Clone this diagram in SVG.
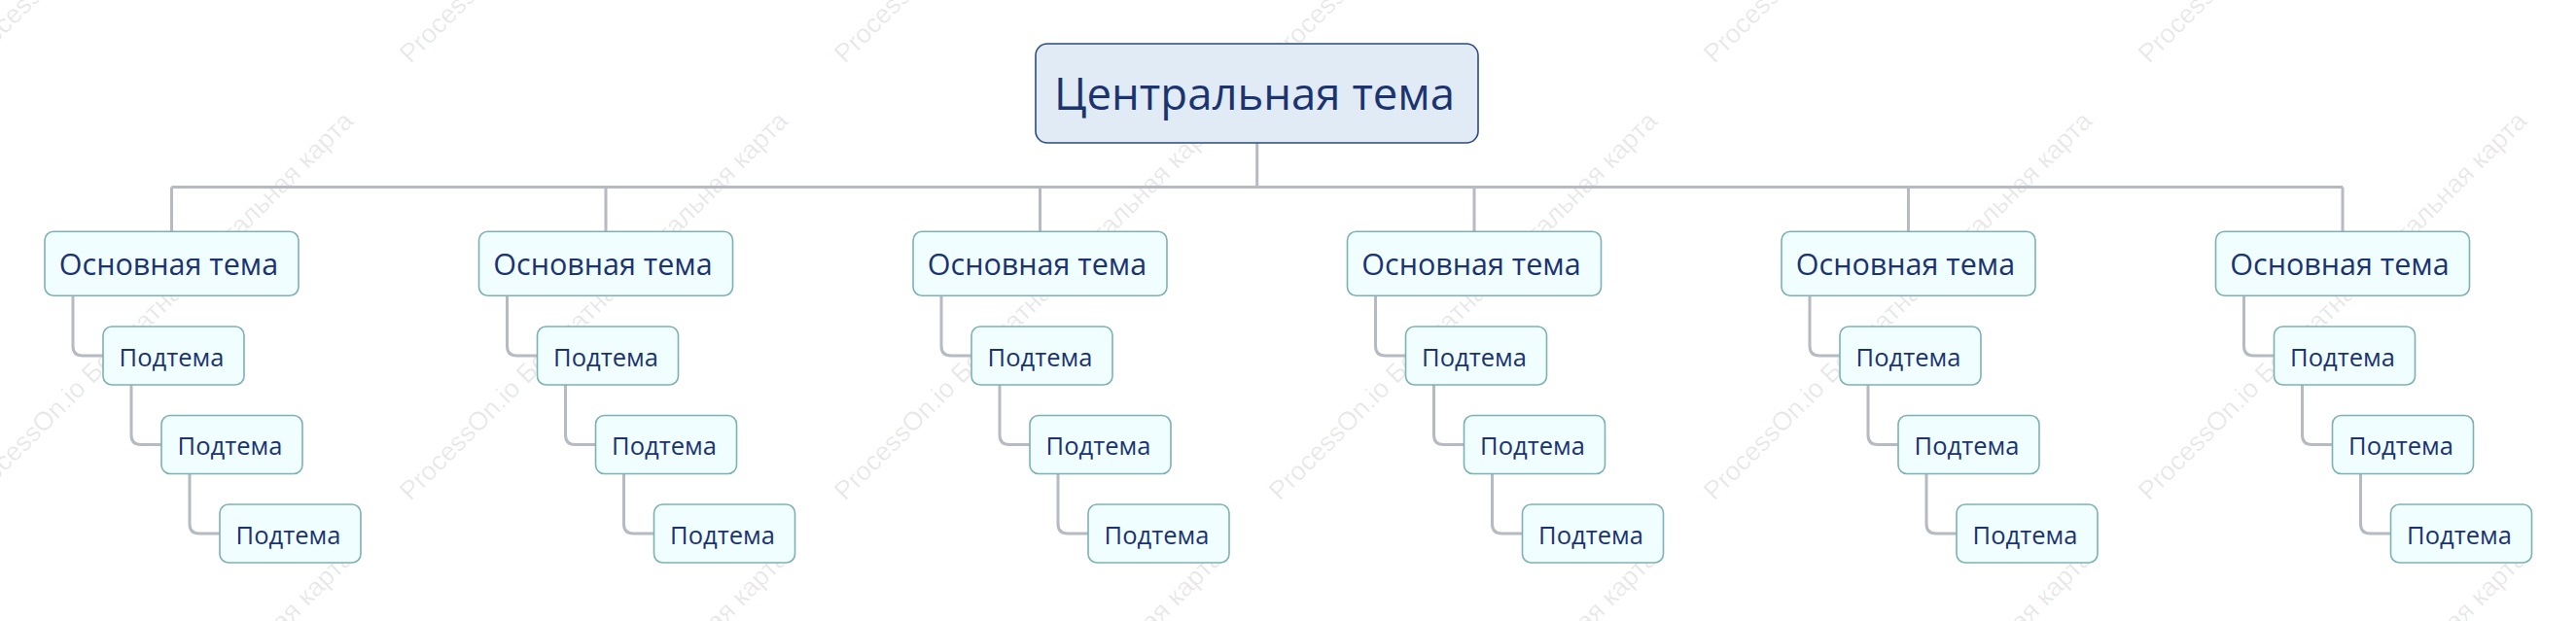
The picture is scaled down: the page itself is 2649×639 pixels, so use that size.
<svg xmlns="http://www.w3.org/2000/svg" width="2649" height="639" viewBox="0 0 2649 639">
<style>
.wm{font-family:"Liberation Sans",Arial,sans-serif;font-size:27px;fill:#000;fill-opacity:0.09}
.lnk{fill:none;stroke:#B6BAC2;stroke-width:3}
.central rect{fill:#E1EBF5;stroke:#2D4B7E;stroke-width:1.6}
.main rect,.sub rect{fill:#F0FEFF;stroke:#7DB1B4;stroke-width:1.6}
text.t{font-family:"Open Sans","Noto Sans",sans-serif;fill:#1B3370;text-anchor:middle}
.central text{font-size:45.5px}
.main text{font-size:30.5px}
.sub text{font-size:25.5px}
</style>
<rect width="2649" height="639" fill="#FFFFFF"/>
<g id="watermark">
<text class="wm" transform="translate(-25,66) rotate(-45)">ProcessOn.io Бесплатная ментальная карта</text>
<text class="wm" transform="translate(422,66) rotate(-45)">ProcessOn.io Бесплатная ментальная карта</text>
<text class="wm" transform="translate(869,66) rotate(-45)">ProcessOn.io Бесплатная ментальная карта</text>
<text class="wm" transform="translate(1316,66) rotate(-45)">ProcessOn.io Бесплатная ментальная карта</text>
<text class="wm" transform="translate(1763,66) rotate(-45)">ProcessOn.io Бесплатная ментальная карта</text>
<text class="wm" transform="translate(2210,66) rotate(-45)">ProcessOn.io Бесплатная ментальная карта</text>
<text class="wm" transform="translate(-25,516) rotate(-45)">ProcessOn.io Бесплатная ментальная карта</text>
<text class="wm" transform="translate(422,516) rotate(-45)">ProcessOn.io Бесплатная ментальная карта</text>
<text class="wm" transform="translate(869,516) rotate(-45)">ProcessOn.io Бесплатная ментальная карта</text>
<text class="wm" transform="translate(1316,516) rotate(-45)">ProcessOn.io Бесплатная ментальная карта</text>
<text class="wm" transform="translate(1763,516) rotate(-45)">ProcessOn.io Бесплатная ментальная карта</text>
<text class="wm" transform="translate(2210,516) rotate(-45)">ProcessOn.io Бесплатная ментальная карта</text>
<text class="wm" transform="translate(-25,966) rotate(-45)">ProcessOn.io Бесплатная ментальная карта</text>
<text class="wm" transform="translate(422,966) rotate(-45)">ProcessOn.io Бесплатная ментальная карта</text>
<text class="wm" transform="translate(869,966) rotate(-45)">ProcessOn.io Бесплатная ментальная карта</text>
<text class="wm" transform="translate(1316,966) rotate(-45)">ProcessOn.io Бесплатная ментальная карта</text>
<text class="wm" transform="translate(1763,966) rotate(-45)">ProcessOn.io Бесплатная ментальная карта</text>
<text class="wm" transform="translate(2210,966) rotate(-45)">ProcessOn.io Бесплатная ментальная карта</text>
</g>
<g id="connectors" class="lnk">
<path d="M1292.7,147 V192.5 M176.5,192.5 H2409"/>
<path d="M176.5,192.5 V238 M623,192.5 V238 M1069.5,192.5 V238 M1516,192.5 V238 M1962.5,192.5 V238 M2409,192.5 V238"/>
<path d="M75,304 V356 Q75,366 85,366 H106 M135,396 V447.5 Q135,457.5 145,457.5 H166 M195,487.5 V539 Q195,549 205,549 H226"/>
<path d="M521.5,304 V356 Q521.5,366 531.5,366 H552.5 M581.5,396 V447.5 Q581.5,457.5 591.5,457.5 H612.5 M641.5,487.5 V539 Q641.5,549 651.5,549 H672.5"/>
<path d="M968,304 V356 Q968,366 978,366 H999 M1028,396 V447.5 Q1028,457.5 1038,457.5 H1059 M1088,487.5 V539 Q1088,549 1098,549 H1119"/>
<path d="M1414.5,304 V356 Q1414.5,366 1424.5,366 H1445.5 M1474.5,396 V447.5 Q1474.5,457.5 1484.5,457.5 H1505.5 M1534.5,487.5 V539 Q1534.5,549 1544.5,549 H1565.5"/>
<path d="M1861,304 V356 Q1861,366 1871,366 H1892 M1921,396 V447.5 Q1921,457.5 1931,457.5 H1952 M1981,487.5 V539 Q1981,549 1991,549 H2012"/>
<path d="M2307.5,304 V356 Q2307.5,366 2317.5,366 H2338.5 M2367.5,396 V447.5 Q2367.5,457.5 2377.5,457.5 H2398.5 M2427.5,487.5 V539 Q2427.5,549 2437.5,549 H2458.5"/>
</g>
<g id="central" class="central" transform="translate(1065,45)"><rect width="455" height="102" rx="12"/><text class="t" x="225" y="68">Центральная тема</text></g>

<g id="main1" class="main" transform="translate(46,238.3)"><rect width="261" height="66" rx="9"/><text class="t" x="127.5" y="45">Основная тема</text></g>
<g id="sub1_1" class="sub" transform="translate(106,336)"><rect width="145" height="60" rx="9"/><text class="t" x="70.5" y="40.7">Подтема</text></g>
<g id="sub1_2" class="sub" transform="translate(166,427.5)"><rect width="145" height="60" rx="9"/><text class="t" x="70.5" y="40.7">Подтема</text></g>
<g id="sub1_3" class="sub" transform="translate(226,519)"><rect width="145" height="60" rx="9"/><text class="t" x="70.5" y="40.7">Подтема</text></g>

<g id="main2" class="main" transform="translate(492.5,238.3)"><rect width="261" height="66" rx="9"/><text class="t" x="127.5" y="45">Основная тема</text></g>
<g id="sub2_1" class="sub" transform="translate(552.5,336)"><rect width="145" height="60" rx="9"/><text class="t" x="70.5" y="40.7">Подтема</text></g>
<g id="sub2_2" class="sub" transform="translate(612.5,427.5)"><rect width="145" height="60" rx="9"/><text class="t" x="70.5" y="40.7">Подтема</text></g>
<g id="sub2_3" class="sub" transform="translate(672.5,519)"><rect width="145" height="60" rx="9"/><text class="t" x="70.5" y="40.7">Подтема</text></g>

<g id="main3" class="main" transform="translate(939,238.3)"><rect width="261" height="66" rx="9"/><text class="t" x="127.5" y="45">Основная тема</text></g>
<g id="sub3_1" class="sub" transform="translate(999,336)"><rect width="145" height="60" rx="9"/><text class="t" x="70.5" y="40.7">Подтема</text></g>
<g id="sub3_2" class="sub" transform="translate(1059,427.5)"><rect width="145" height="60" rx="9"/><text class="t" x="70.5" y="40.7">Подтема</text></g>
<g id="sub3_3" class="sub" transform="translate(1119,519)"><rect width="145" height="60" rx="9"/><text class="t" x="70.5" y="40.7">Подтема</text></g>

<g id="main4" class="main" transform="translate(1385.5,238.3)"><rect width="261" height="66" rx="9"/><text class="t" x="127.5" y="45">Основная тема</text></g>
<g id="sub4_1" class="sub" transform="translate(1445.5,336)"><rect width="145" height="60" rx="9"/><text class="t" x="70.5" y="40.7">Подтема</text></g>
<g id="sub4_2" class="sub" transform="translate(1505.5,427.5)"><rect width="145" height="60" rx="9"/><text class="t" x="70.5" y="40.7">Подтема</text></g>
<g id="sub4_3" class="sub" transform="translate(1565.5,519)"><rect width="145" height="60" rx="9"/><text class="t" x="70.5" y="40.7">Подтема</text></g>

<g id="main5" class="main" transform="translate(1832,238.3)"><rect width="261" height="66" rx="9"/><text class="t" x="127.5" y="45">Основная тема</text></g>
<g id="sub5_1" class="sub" transform="translate(1892,336)"><rect width="145" height="60" rx="9"/><text class="t" x="70.5" y="40.7">Подтема</text></g>
<g id="sub5_2" class="sub" transform="translate(1952,427.5)"><rect width="145" height="60" rx="9"/><text class="t" x="70.5" y="40.7">Подтема</text></g>
<g id="sub5_3" class="sub" transform="translate(2012,519)"><rect width="145" height="60" rx="9"/><text class="t" x="70.5" y="40.7">Подтема</text></g>

<g id="main6" class="main" transform="translate(2278.5,238.3)"><rect width="261" height="66" rx="9"/><text class="t" x="127.5" y="45">Основная тема</text></g>
<g id="sub6_1" class="sub" transform="translate(2338.5,336)"><rect width="145" height="60" rx="9"/><text class="t" x="70.5" y="40.7">Подтема</text></g>
<g id="sub6_2" class="sub" transform="translate(2398.5,427.5)"><rect width="145" height="60" rx="9"/><text class="t" x="70.5" y="40.7">Подтема</text></g>
<g id="sub6_3" class="sub" transform="translate(2458.5,519)"><rect width="145" height="60" rx="9"/><text class="t" x="70.5" y="40.7">Подтема</text></g>
</svg>
